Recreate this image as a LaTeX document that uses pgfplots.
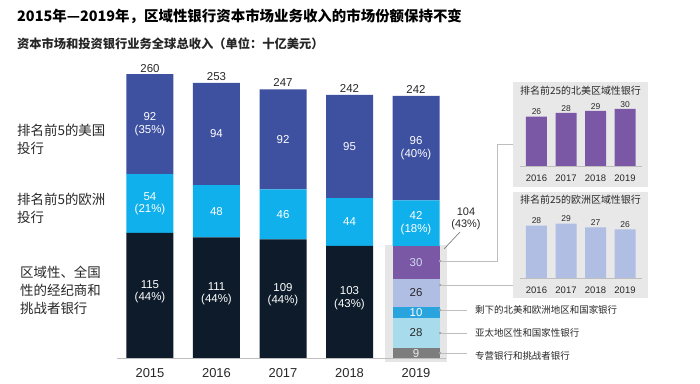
\documentclass[border=0pt]{standalone}
\usepackage{fontspec}
\setmainfont{Liberation Sans}
\newfontfamily\cjk{Noto Sans CJK SC}
\usepackage{pgfplots}
\pgfplotsset{compat=1.18}
\definecolor{usblue}{RGB}{62,80,160}
\definecolor{eucyan}{RGB}{16,176,236}
\definecolor{darknavy}{RGB}{13,27,42}
\definecolor{purp}{RGB}{123,88,166}
\definecolor{lav}{RGB}{176,190,228}
\definecolor{blueten}{RGB}{41,164,222}
\definecolor{lcyan}{RGB}{168,220,236}
\definecolor{grayn}{RGB}{125,125,125}
\definecolor{panel}{RGB}{232,232,233}
\definecolor{backdrop}{RGB}{230,230,230}
\definecolor{txt}{RGB}{40,40,40}
\definecolor{linegray}{RGB}{190,190,190}
\begin{document}
\begin{tikzpicture}
\path[fill=white] (0bp,0bp) rectangle (700bp,384bp);
% title
\node[anchor=base west, inner sep=0, font=\cjk\bfseries\fontsize{14.5}{15}\selectfont, text=black] at (17bp,362.5bp) {2015年—2019年，区域性银行资本市场业务收入的市场份额保持不变};
\node[anchor=base west, inner sep=0, font=\cjk\bfseries\fontsize{12.3}{13}\selectfont, text=black!85] at (17bp,335bp) {资本市场和投资银行业务全球总收入（单位：十亿美元）};
% left labels
\node[anchor=west, inner sep=0, align=left, font=\cjk\fontsize{13.5}{18}\selectfont, text=txt] at (17bp,245bp) {排名前5的美国\\投行};
\node[anchor=west, inner sep=0, align=left, font=\cjk\fontsize{13.5}{18}\selectfont, text=txt] at (17bp,176bp) {排名前5的欧洲\\投行};
\node[anchor=west, inner sep=0, align=left, font=\cjk\fontsize{13.5}{18}\selectfont, text=txt] at (20bp,94bp) {区域性、全国\\性的经纪商和\\挑战者银行};
% backdrop for 2019 breakdown
\fill[backdrop] (385bp,22bp) rectangle (447bp,139bp);
% panels
\fill[panel] (513bp,197bp) rectangle (648bp,302bp);
\fill[panel] (513bp,86bp) rectangle (648bp,192bp);
% main axis
\begin{axis}[at={(117bp,26bp)}, anchor=south west, scale only axis,
  width=333bp, height=298bp, xmin=-0.496, xmax=4.511, ymin=0, ymax=274,
  ybar stacked, bar width=47bp, axis line style={draw=none}, ytick=\empty,
  xtick={0,1,2,3,4}, xticklabels={2015,2016,2017,2018,2019}, major tick length=0pt,
  xticklabel style={font=\fontsize{13}{13}\selectfont, text=txt, yshift=-7bp}, clip=false]
\addplot[fill=grayn, draw=none] coordinates {(0,0) (1,0) (2,0) (3,0) (4,9)};
\addplot[fill=lcyan, draw=none] coordinates {(0,0) (1,0) (2,0) (3,0) (4,28)};
\addplot[fill=blueten, draw=none] coordinates {(0,0) (1,0) (2,0) (3,0) (4,10)};
\addplot[fill=lav, draw=none] coordinates {(0,0) (1,0) (2,0) (3,0) (4,26)};
\addplot[fill=purp, draw=none] coordinates {(0,0) (1,0) (2,0) (3,0) (4,30)};
\addplot[fill=darknavy, draw=none] coordinates {(0,115) (1,111) (2,109) (3,103) (4,0)};
\addplot[fill=eucyan, draw=none] coordinates {(0,54) (1,48) (2,46) (3,44) (4,42)};
\addplot[fill=usblue, draw=none] coordinates {(0,92) (1,94) (2,92) (3,95) (4,96)};
\coordinate (t0) at (axis cs:0,260);
\coordinate (t1) at (axis cs:1,253);
\coordinate (t2) at (axis cs:2,247);
\coordinate (t3) at (axis cs:3,242);
\coordinate (t4) at (axis cs:4,241);
\coordinate (u0) at (axis cs:0,215);
\coordinate (e0) at (axis cs:0,142);
\coordinate (d0) at (axis cs:0,61);
\coordinate (u1) at (axis cs:1,206);
\coordinate (e1) at (axis cs:1,135);
\coordinate (d1) at (axis cs:1,59);
\coordinate (u2) at (axis cs:2,201);
\coordinate (e2) at (axis cs:2,132);
\coordinate (d2) at (axis cs:2,58);
\coordinate (u3) at (axis cs:3,194.5);
\coordinate (e3) at (axis cs:3,125);
\coordinate (d3) at (axis cs:3,55);
\coordinate (u4) at (axis cs:4,193);
\coordinate (e4) at (axis cs:4,124);
\coordinate (p4) at (axis cs:4,88);
\coordinate (l4) at (axis cs:4,60);
\coordinate (b4) at (axis cs:4,42);
\coordinate (c4) at (axis cs:4,23);
\coordinate (g4) at (axis cs:4,4.5);
\end{axis}
\draw[linegray, line width=0.8bp] (117bp,26bp) -- (446bp,26bp);
\tikzset{tot/.style={anchor=south, inner sep=2.5bp, font=\fontsize{11.5}{12}\selectfont, text=txt}}
\node[tot] at (t0) {260};
\node[tot] at (t1) {253};
\node[tot] at (t2) {247};
\node[tot] at (t3) {242};
\node[tot] at (t4) {242};
\tikzset{lab/.style={align=center, inner sep=0, font=\fontsize{11.5}{12.5}\selectfont, text=white}}
\node[lab] at (u0) {92\\(35\%)};
\node[lab] at (e0) {54\\(21\%)};
\node[lab] at (d0) {115\\(44\%)};
\node[lab] at (u1) {94};
\node[lab] at (e1) {48};
\node[lab] at (d1) {111\\(44\%)};
\node[lab] at (u2) {92};
\node[lab] at (e2) {46};
\node[lab] at (d2) {109\\(44\%)};
\node[lab] at (u3) {95};
\node[lab] at (e3) {44};
\node[lab] at (d3) {103\\(43\%)};
\node[lab] at (u4) {96\\(40\%)};
\node[lab] at (e4) {42\\(18\%)};
\node[lab, text=lav!60!white] at (p4) {30};
\node[lab, text=txt] at (l4) {26};
\node[lab] at (b4) {10};
\node[lab, text=txt] at (c4) {28};
\node[lab, text=white!85!gray] at (g4) {9};
% top inset
\begin{axis}[at={(520bp,218bp)}, anchor=south west, scale only axis,
  width=122bp, height=71bp, xmin=-0.559, xmax=3.576, ymin=0, ymax=37.37,
  ybar, bar width=21bp, axis line style={draw=none}, ytick=\empty,
  xtick={0,1,2,3}, xticklabels={2016,2017,2018,2019}, major tick length=0pt,
  xticklabel style={font=\fontsize{9.5}{10}\selectfont, text=txt, yshift=-5bp},
  nodes near coords, /pgf/number format/assume math mode=true,
  every node near coord/.append style={font=\fontsize{8.5}{9}\selectfont, text=txt, inner sep=1.5bp},
  clip=false]
\addplot[fill=purp, draw=none] coordinates {(0,26) (1,28) (2,29) (3,30)};
\draw[linegray, line width=0.6bp] (axis cs:-0.559,0) -- (axis cs:3.576,0);
\end{axis}
% bottom inset
\begin{axis}[at={(520bp,105.3bp)}, anchor=south west, scale only axis,
  width=122bp, height=71bp, xmin=-0.559, xmax=3.576, ymin=0, ymax=37.37,
  ybar, bar width=21bp, axis line style={draw=none}, ytick=\empty,
  xtick={0,1,2,3}, xticklabels={2016,2017,2018,2019}, major tick length=0pt,
  xticklabel style={font=\fontsize{9.5}{10}\selectfont, text=txt, yshift=-4.5bp},
  nodes near coords, /pgf/number format/assume math mode=true,
  every node near coord/.append style={font=\fontsize{8.5}{9}\selectfont, text=txt, inner sep=1.5bp},
  clip=false]
\addplot[fill=lav, draw=none] coordinates {(0,28) (1,29) (2,27) (3,26)};
\draw[linegray, line width=0.6bp] (axis cs:-0.559,0) -- (axis cs:3.576,0);
\end{axis}
% inset titles
\node[anchor=west, inner sep=0, font=\cjk\fontsize{10}{10}\selectfont, text=txt] at (520bp,293bp) {排名前25的北美区域性银行};
\node[anchor=west, inner sep=0, font=\cjk\fontsize{10}{10}\selectfont, text=txt] at (520bp,184bp) {排名前25的欧洲区域性银行};
% connectors
\draw[linegray, line width=0.7bp] (440bp,123bp) -- (497bp,123bp) -- (497bp,240bp) -- (513bp,240bp);
\draw[linegray, line width=0.7bp] (440bp,99bp) -- (513bp,99bp);
\draw[linegray, line width=0.7bp] (440bp,74bp) -- (467bp,74bp);
\draw[linegray, line width=0.7bp] (440bp,51bp) -- (467bp,51bp);
\draw[linegray, line width=0.7bp] (440bp,31bp) -- (467bp,31bp);
\foreach \yy in {123,99,74,51,31} {\fill[gray!70] (440bp,\yy bp) circle (1.4bp);}
\draw[gray, line width=0.7bp] (444bp,135bp) -- (460bp,152bp);
\node[align=center, inner sep=0, font=\fontsize{11}{12}\selectfont, text=txt] at (466bp,165bp) {104\\(43\%)};
% right labels
\node[anchor=west, inner sep=0, font=\cjk\fontsize{9.5}{10}\selectfont, text=txt] at (475bp,74bp) {剩下的北美和欧洲地区和国家银行};
\node[anchor=west, inner sep=0, font=\cjk\fontsize{9.5}{10}\selectfont, text=txt] at (475bp,51bp) {亚太地区性和国家性银行};
\node[anchor=west, inner sep=0, font=\cjk\fontsize{9.5}{10}\selectfont, text=txt] at (475bp,28bp) {专营银行和挑战者银行};
\end{tikzpicture}
\end{document}
